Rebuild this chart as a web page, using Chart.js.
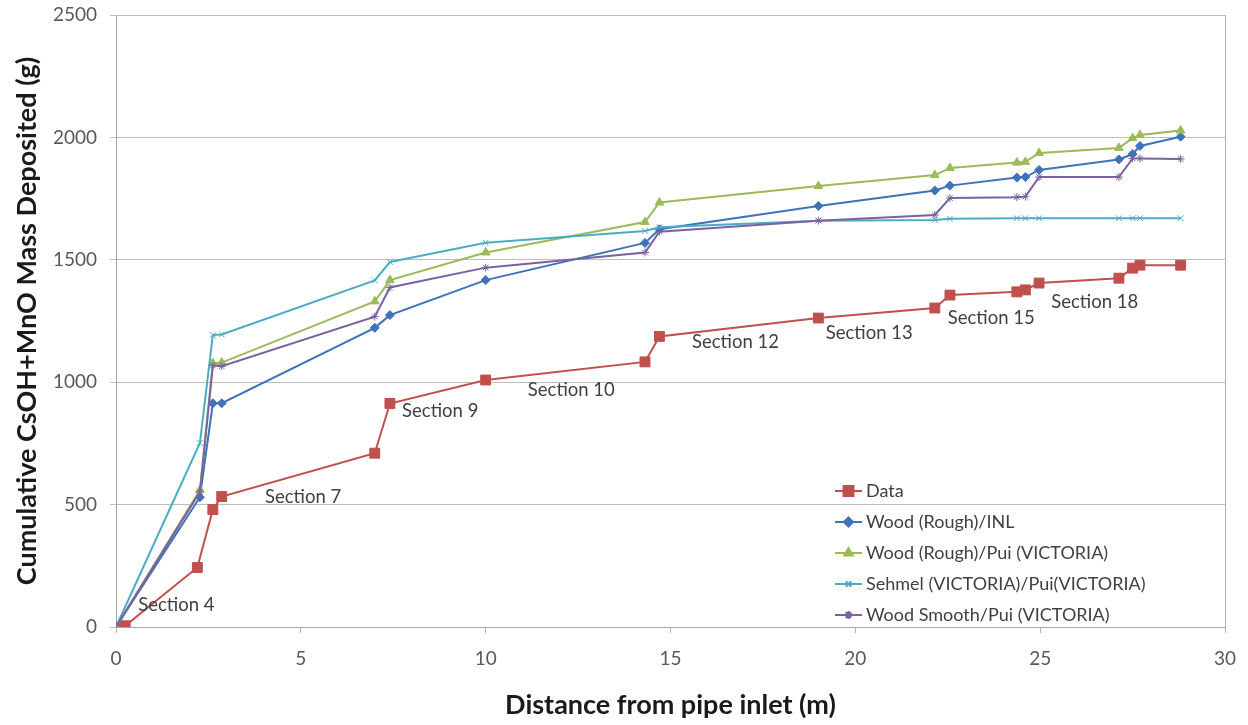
<!DOCTYPE html>
<html>
<head>
<meta charset="utf-8">
<script src="https://cdn.jsdelivr.net/npm/chart.js@4/dist/chart.umd.min.js"></script>
<style>
  html, body { margin: 0; padding: 0; background: #fff; }
  #wrap { width: 1248px; height: 725px; }
</style>
</head>
<body>
<div id="wrap"><canvas id="chart"></canvas></div>
<script>
// distances (m) and cumulative deposited mass (g)
const dataX = [0, 0.25, 2.2, 2.62, 2.86, 7.0, 7.41, 10.0, 14.31, 14.7, 19.0, 22.15, 22.56, 24.37, 24.6, 24.97, 27.13, 27.5, 27.7, 28.8];
const dataY = [0, 5, 243, 480, 533, 710, 913, 1009, 1083, 1187, 1262, 1303, 1356, 1369, 1377, 1405, 1425, 1466, 1478, 1478];

const modelX = [0, 2.27, 2.62, 2.86, 7.0, 7.41, 10.0, 14.31, 14.7, 19.0, 22.15, 22.56, 24.37, 24.6, 24.97, 27.13, 27.5, 27.7, 28.8];
const woodInl = [0, 530, 914, 914, 1222, 1274, 1417, 1569, 1625, 1720, 1783, 1803, 1836, 1838, 1867, 1910, 1932, 1965, 2003];
const woodPui = [0, 560, 1078, 1080, 1330, 1417, 1530, 1654, 1734, 1801, 1846, 1875, 1897, 1900, 1936, 1957, 1997, 2010, 2028];
const sehmelPui = [0, 752, 1193, 1195, 1416, 1491, 1570, 1618, 1633, 1660, 1663, 1668, 1670, 1670, 1670, 1670, 1670, 1670, 1670];
const smoothPui = [0, 552, 1068, 1065, 1268, 1387, 1468, 1530, 1615, 1660, 1683, 1752, 1756, 1758, 1838, 1838, 1914, 1914, 1912];

const seriesNames = [
    "Data",
    "Wood (Rough)/INL",
    "Wood (Rough)/Pui (VICTORIA)",
    "Sehmel (VICTORIA)/Pui(VICTORIA)",
    "Wood Smooth/Pui (VICTORIA)",
];

// section annotations, anchored in data units (left edge, middle)
const sectionText = ["Section 4", "Section 7", "Section 9", "Section 10", "Section 12", "Section 13", "Section 15", "Section 18"];
const sectionX = [0.6, 4.03, 7.74, 11.14, 15.58, 19.2, 22.5, 25.3];
const sectionY = [90, 531, 882, 968, 1164, 1201, 1262, 1328];

const xTicks = [0, 5, 10, 15, 20, 25, 30];
const yTicks = [0, 500, 1000, 1500, 2000, 2500];

const FONT = "Lato, 'Open Sans', sans-serif";

function pairs(xs, ys) {
    return xs.map((x, i) => ({ x: x, y: ys[i] }));
}

const styles = [
    { color: "#c0504d", point: "rect", radius: 7 },
    { color: "#3f72bb", point: "rectRot", radius: 4.5 },
    { color: "#9bbb59", point: "triangle", radius: 5 },
    { color: "#4bacc6", point: "crossRot", radius: 4 },
    { color: "#7a62a0", point: "star", radius: 4 },
];
const values = [pairs(dataX, dataY), pairs(modelX, woodInl), pairs(modelX, woodPui), pairs(modelX, sehmelPui), pairs(modelX, smoothPui)];

const datasets = values.map((v, i) => ({
    label: seriesNames[i],
    data: v,
    borderColor: styles[i].color,
    backgroundColor: styles[i].color,
    pointStyle: styles[i].point,
    pointRadius: styles[i].radius,
    pointBorderWidth: 1,
    borderWidth: 2,
    tension: 0,
    order: 5 - i,
}));

const frame = {
    id: "frame",
    beforeDatasetsDraw(chart) {
        const { ctx, chartArea } = chart;
        ctx.save();
        ctx.strokeStyle = "#b3b3b3";
        ctx.lineWidth = 1;
        ctx.beginPath();
        ctx.moveTo(Math.round(chartArea.right) + 0.5, chartArea.top);
        ctx.lineTo(Math.round(chartArea.right) + 0.5, chartArea.bottom);
        ctx.stroke();
        ctx.restore();
    },
};

const extras = {
    id: "extras",
    afterDraw(chart) {
        const { ctx, scales } = chart;
        ctx.save();
        // section labels
        ctx.font = "18.5px " + FONT;
        ctx.fillStyle = "#404040";
        ctx.textBaseline = "middle";
        ctx.textAlign = "left";
        sectionText.forEach((t, i) => {
            ctx.fillText(t, scales.x.getPixelForValue(sectionX[i]), scales.y.getPixelForValue(sectionY[i]));
        });
        // legend inside the plot
        const lx = 835, ly = 491, step = 31;
        chart.data.datasets.forEach((ds, i) => {
            const y = ly + i * step;
            ctx.strokeStyle = ds.borderColor;
            ctx.lineWidth = 2;
            ctx.beginPath();
            ctx.moveTo(lx, y);
            ctx.lineTo(lx + 27, y);
            ctx.stroke();
            Chart.helpers.drawPoint(ctx, {
                pointStyle: ds.pointStyle,
                radius: ds.pointRadius,
                borderWidth: 1,
                rotation: 0,
            }, lx + 13.5, y);
            ctx.fillStyle = ds.borderColor;
            ctx.fill();
            ctx.fillStyle = "#404040";
            ctx.font = "18px " + FONT;
            ctx.fillText(ds.label, lx + 31, y);
        });
        ctx.restore();
    },
};

new Chart(document.getElementById("chart"), {
    type: "line",
    data: { datasets: datasets },
    options: {
        responsive: true,
        maintainAspectRatio: false,
        animation: false,
        layout: { padding: { left: 0, right: 23, top: 15, bottom: 0 } },
        plugins: {
            legend: { display: false },
            tooltip: { enabled: false },
        },
        scales: {
            x: {
                type: "linear",
                min: 0,
                max: 30,
                afterBuildTicks(scale) { scale.ticks = xTicks.map(v => ({ value: v })); },
                afterFit(scale) {
                    scale.height = 98;
                    scale.paddingLeft = 0;
                    scale.paddingRight = 0;
                },
                grid: { drawOnChartArea: false, drawTicks: true, tickLength: 6, color: "#b3b3b3" },
                border: { color: "#a6a6a6" },
                ticks: { color: "#595959", font: { family: FONT, size: 19 }, padding: 14, callback: v => String(v) },
                title: {
                    display: true,
                    text: "Distance from pipe inlet (m)",
                    color: "#1a1a1a",
                    font: { family: FONT, size: 27, weight: "bold" },
                    padding: { top: 0, bottom: 4 },
                },
            },
            y: {
                type: "linear",
                min: 0,
                max: 2500,
                afterBuildTicks(scale) { scale.ticks = yTicks.map(v => ({ value: v })); },
                afterFit(scale) {
                    scale.width = 116;
                    scale.paddingTop = 0;
                    scale.paddingBottom = 0;
                },
                grid: { color: "#bdbdbd", tickLength: 6 },
                border: { color: "#a6a6a6" },
                ticks: { color: "#595959", font: { family: FONT, size: 19 }, padding: 13, callback: v => String(v) },
                title: {
                    display: true,
                    text: "Cumulative CsOH+MnO Mass Deposited (g)",
                    color: "#1a1a1a",
                    font: { family: FONT, size: 27, weight: "bold" },
                    padding: { top: 11, bottom: 0 },
                },
            },
        },
    },
    plugins: [frame, extras],
});
</script>
</body>
</html>
